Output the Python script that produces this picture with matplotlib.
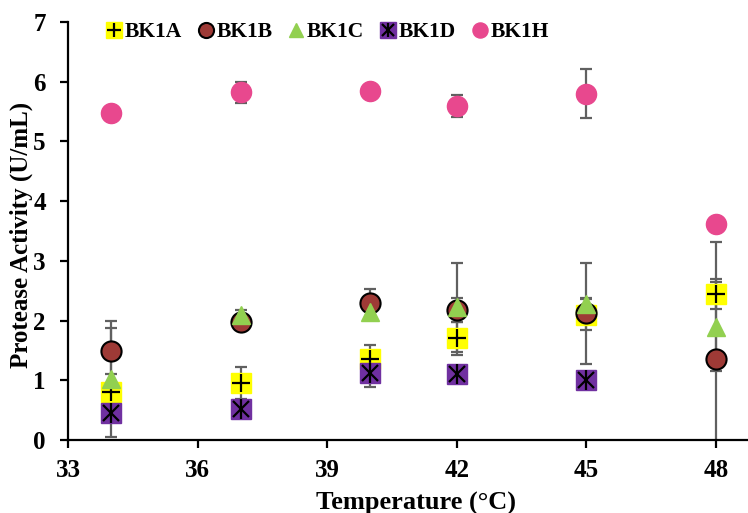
import matplotlib
matplotlib.use("Agg")
import matplotlib.pyplot as plt
from matplotlib.lines import Line2D
import numpy as np

plt.rcParams["font.family"] = ["Liberation Serif", "DejaVu Serif"]
plt.rcParams["font.weight"] = "bold"

# temperature (deg C) and activity (U/mL)
temps = [34, 37, 40, 42, 45, 48]
bk1a = [0.80, 0.95, 1.35, 1.70, 2.10, 2.45]
bk1a_err = [0.12, 0.27, 0.24, 0.28, 0.26, 0.25]
bk1b = [1.49, 1.98, 2.30, 2.17, 2.12, 1.36]
bk1b_err = [0.38, 0.10, 0.23, 0.20, 0.84, 1.95]
bk1c = [1.02, 2.10, 2.15, 2.22, 2.28, 1.90]
bk1c_err = [0.97, 0.08, 0.10, 0.74, 0.10, 0.75]
bk1d = [0.45, 0.52, 1.12, 1.10, 1.00, np.nan]
bk1d_err = [0.10, 0.10, 0.24, 0.10, 0.10, np.nan]
bk1h = [5.48, 5.82, 5.85, 5.59, 5.80, 3.62]
bk1h_err = [0.05, 0.17, 0.05, 0.18, 0.41, 0.05]
labels = ["BK1A", "BK1B", "BK1C", "BK1D", "BK1H"]

fig = plt.figure(figsize=(7.48, 5.13), dpi=100)
ax = fig.add_axes([68 / 748, 73 / 513, 680 / 748, 418 / 513])

ecol = "#606060"
series = [
    (bk1a, bk1a_err, dict(marker="s", color="#FFFF00", mec="#FFFF00", ms=14.5)),
    (bk1b, bk1b_err, dict(marker="o", color="#9E3A36", mec="black", mew=1.5, ms=14.5)),
    (bk1c, bk1c_err, dict(marker="^", color="#92D050", mec="#92D050", ms=13.5)),
    (bk1d, bk1d_err, dict(marker="s", color="#7030A0", mec="#7030A0", ms=14.5)),
    (bk1h, bk1h_err, dict(marker="o", color="#E8488E", mec="#E8488E", ms=14.5)),
]

# error bars go under all the markers
for vals, err, st in series:
    ax.errorbar(temps, vals, yerr=err, fmt="none", ecolor=ecol,
                elinewidth=1.6, capsize=4.5, capthick=1.6, zorder=2)

handles = []
for i, (vals, err, st) in enumerate(series):
    ax.plot(temps, vals, ls="none", zorder=3 + i, **st)
    h = [Line2D([], [], ls="none", **st)]
    if labels[i] == "BK1A":
        ax.plot(temps, vals, ls="none", marker="+", ms=13, mew=1.6,
                color="black", zorder=3 + i)
        h.append(Line2D([], [], ls="none", marker="+", ms=13, mew=1.6, color="black"))
    if labels[i] == "BK1D":
        ax.plot(temps, vals, ls="none", marker="x", ms=11, mew=1.6,
                color="black", zorder=3 + i)
        ax.plot(temps, vals, ls="none", marker="|", ms=14, mew=1.6,
                color="black", zorder=3 + i)
        h.append(Line2D([], [], ls="none", marker="x", ms=11, mew=1.6, color="black"))
        h.append(Line2D([], [], ls="none", marker="|", ms=14, mew=1.6, color="black"))
    handles.append(tuple(h))

ax.set_xlim(33, 48.74)
ax.set_ylim(0, 7)
ax.set_xticks([33, 36, 39, 42, 45, 48])
ax.set_yticks(range(0, 8))
for s in ["top", "right"]:
    ax.spines[s].set_visible(False)
ax.spines["left"].set_linewidth(1.6)
ax.spines["bottom"].set_linewidth(1.6)
ax.tick_params(axis="both", direction="out", length=6, width=1.6,
               labelsize=18, colors="black")
ax.tick_params(axis="x", pad=8)
ax.tick_params(axis="y", pad=10)
for t in ax.get_xticklabels() + ax.get_yticklabels():
    t.set_fontweight("bold")

ax.set_xlabel("Temperature (°C)", fontsize=19, fontweight="bold")
ax.xaxis.set_label_coords(0.5125, -0.125)
ax.set_ylabel("Protease Activity (U/mL)", fontsize=18, fontweight="bold")
ax.yaxis.set_label_coords(-0.051, 0.4916)

leg = fig.legend(handles, labels, loc="center left",
                 bbox_to_anchor=(86 / 748, 1 - 32 / 513), ncol=5,
                 frameon=False, markerscale=0.75, handlelength=0.8,
                 handletextpad=0.1, columnspacing=0.7,
                 prop={"size": 15.5, "weight": "bold"})

fig.savefig("out.png", dpi=100)
